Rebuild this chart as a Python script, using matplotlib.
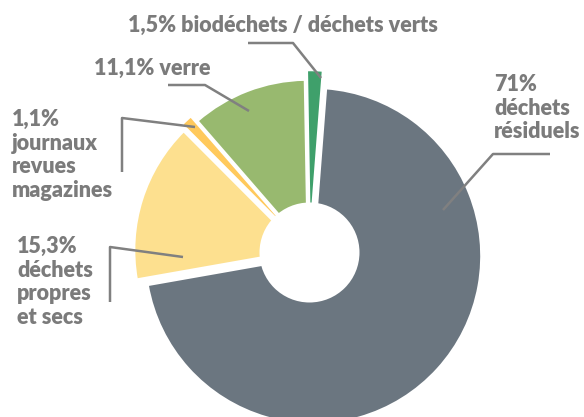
import matplotlib
matplotlib.use("Agg")
import matplotlib.pyplot as plt
from matplotlib.patches import Circle

# Data
categories = ["déchets résiduels", "déchets propres et secs", "journaux revues magazines",
              "verre", "biodéchets / déchets verts"]
values = [71.0, 15.3, 1.1, 11.1, 1.5]
labels = ["71%\ndéchets\nrésiduels", "15,3%\ndéchets\npropres\net secs",
          "1,1%\njournaux\nrevues\nmagazines", "11,1% verre",
          "1,5% biodéchets / déchets verts"]
colors = ["#6b7680", "#fde08f", "#ffc95c", "#98b96f", "#3fa06b"]
explode = [0.03, 0.045, 0.075, 0.03, 0.085]

W, H = 584, 417
CX, CY, R = 309.5, 252.5, 168.0

fig = plt.figure(figsize=(W / 100, H / 100), dpi=100)
ax = fig.add_axes([0, 0, 1, 1])


def px(x, y):
    return ((x - CX) / R, (CY - y) / R)


ax.pie(values, colors=colors, explode=explode, startangle=85.6, counterclock=False,
       radius=1.0, wedgeprops=dict(edgecolor="white", linewidth=1.5), frame=False)
ax.set_xlim((0 - CX) / R, (W - CX) / R)
ax.set_ylim(-(H - CY) / R, CY / R)
ax.set_aspect("equal")
ax.axis("off")
ax.add_patch(Circle((0, 0), 50 / R, facecolor="white", edgecolor="none", zorder=5))

tc = "#7b7b7b"
lc = "#808080"
font = dict(family="Lato", weight="heavy", size=15.5, color=tc)

leaders = [
    [(550, 154), (493, 154), (443, 210)],
    [(110, 302), (110, 247), (183, 257)],
    [(122, 172), (122, 118), (195, 127)],
    [(168, 85), (205, 85), (249, 111)],
    [(248, 43), (293, 43), (321, 78)],
]
for pts in leaders:
    xs, ys = zip(*[px(x, y) for x, y in pts])
    ax.plot(xs, ys, color=lc, lw=1.8, solid_capstyle="butt", zorder=6)

# label anchors (left, top) in pixels
anchors = [(494, 74), (17, 236), (12, 109), (94, 58), (128, 15)]
for lab, (x, y) in zip(labels, anchors):
    ax.text(*px(x, y), lab, ha="left", va="top", linespacing=1.15, **font)

fig.savefig("out.png", dpi=100)
